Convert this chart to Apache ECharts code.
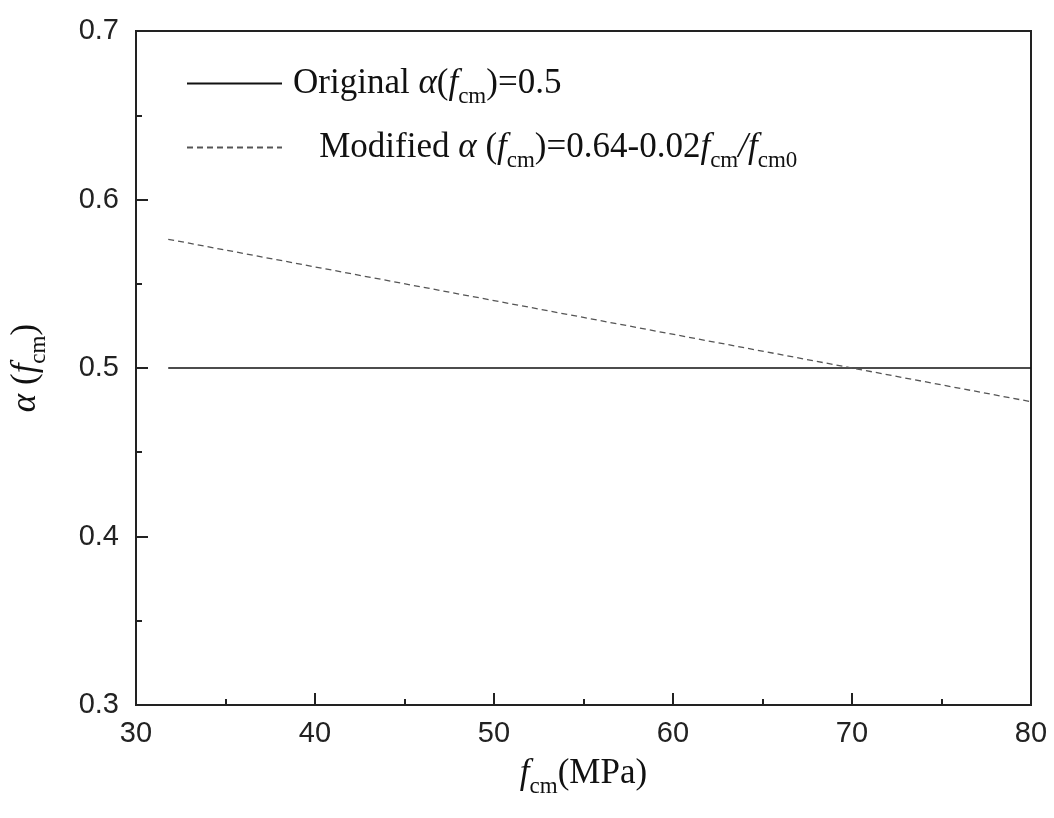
<!DOCTYPE html>
<html>
<head>
<meta charset="utf-8">
<script src="https://cdn.jsdelivr.net/npm/echarts@6/dist/echarts.min.js"></script>
<style>html,body{margin:0;padding:0;background:#fff;}#c{width:1054px;height:818px;}</style>
</head>
<body>
<div id="c"></div>
<script>
var xValues = [31.8, 80];
var originalValues = [0.5, 0.5];
var modifiedValues = [0.5764, 0.48];
var seriesNames = ['Original', 'Modified'];
var xTicks = [30, 40, 50, 60, 70, 80];
var yTicks = [0.3, 0.4, 0.5, 0.6, 0.7];

function pairs(xs, ys) { return xs.map(function (x, i) { return [x, ys[i]]; }); }

var serif = 'Liberation Serif, Times New Roman, serif';
var sans = 'Liberation Sans, Arial, sans-serif';
var richStyles = {
  g: { width: 6, fontSize: 35 },
  t: { fontFamily: serif, fontSize: 35, color: '#111' },
  i: { fontFamily: serif, fontSize: 35, fontStyle: 'italic', color: '#111' },
  s: { fontFamily: serif, fontSize: 23, color: '#111', padding: [26, 0, 0, 0] }
};

var chart = echarts.init(document.getElementById('c'), null, { renderer: 'canvas' });
chart.setOption({
  backgroundColor: '#fff',
  animation: false,
  grid: { left: 134, right: 23, top: 31, bottom: 113, show: true, borderColor: '#222', borderWidth: 2, backgroundColor: 'transparent' },
  legend: {
    orient: 'vertical', left: 181, top: 61, itemGap: 22,
    itemWidth: 95, itemHeight: 14,
    data: seriesNames,
    itemStyle: { opacity: 0, color: 'transparent', borderColor: 'transparent', borderWidth: 0 },
    formatter: function (name) {
      if (name === 'Original') return '{g| }{t|Original }{i|α}{t|(}{i|f}{s|cm}{t|)=0.5}';
      return '{g| }{t|   Modified }{i|α}{t| (}{i|f}{s|cm}{t|)=0.64-0.02}{i|f}{s|cm}{i|/f}{s|cm0}';
    },
    textStyle: { rich: richStyles }
  },
  xAxis: {
    type: 'value', min: 30, max: 80, interval: 10,
    name: '{i|f}{s|cm}{t|(MPa)}', nameLocation: 'middle', nameGap: 44,
    nameTextStyle: { rich: richStyles },
    axisLine: { show: true, lineStyle: { color: '#222', width: 2 } },
    axisTick: { show: true, inside: true, length: 12, lineStyle: { color: '#222', width: 2 } },
    minorTick: { show: true, splitNumber: 2, length: 6, lineStyle: { color: '#222', width: 2 } },
    axisLabel: { fontFamily: sans, fontSize: 29, color: '#222', margin: 14 },
    splitLine: { show: false }
  },
  yAxis: {
    type: 'value', min: 0.3, max: 0.7, interval: 0.1,
    name: '{i|α}{t| (}{i|f}{s|cm}{t|)}', nameLocation: 'middle', nameGap: 86,
    nameTextStyle: { rich: richStyles },
    axisLine: { show: true, lineStyle: { color: '#222', width: 2 } },
    axisTick: { show: true, inside: true, length: 12, lineStyle: { color: '#222', width: 2 } },
    minorTick: { show: true, splitNumber: 2, length: 6, lineStyle: { color: '#222', width: 2 } },
    axisLabel: { fontFamily: sans, fontSize: 29, color: '#222', margin: 17, formatter: function (v) { return v.toFixed(1); } },
    splitLine: { show: false }
  },
  series: [
    { name: seriesNames[0], type: 'line', data: pairs(xValues, originalValues), symbol: 'none', lineStyle: { color: '#111', width: 1.3, type: 'solid' } },
    { name: seriesNames[1], type: 'line', data: pairs(xValues, modifiedValues), symbol: 'none', lineStyle: { color: '#555', width: 1.3, type: [6, 4] } }
  ]
});
</script>
</body>
</html>
